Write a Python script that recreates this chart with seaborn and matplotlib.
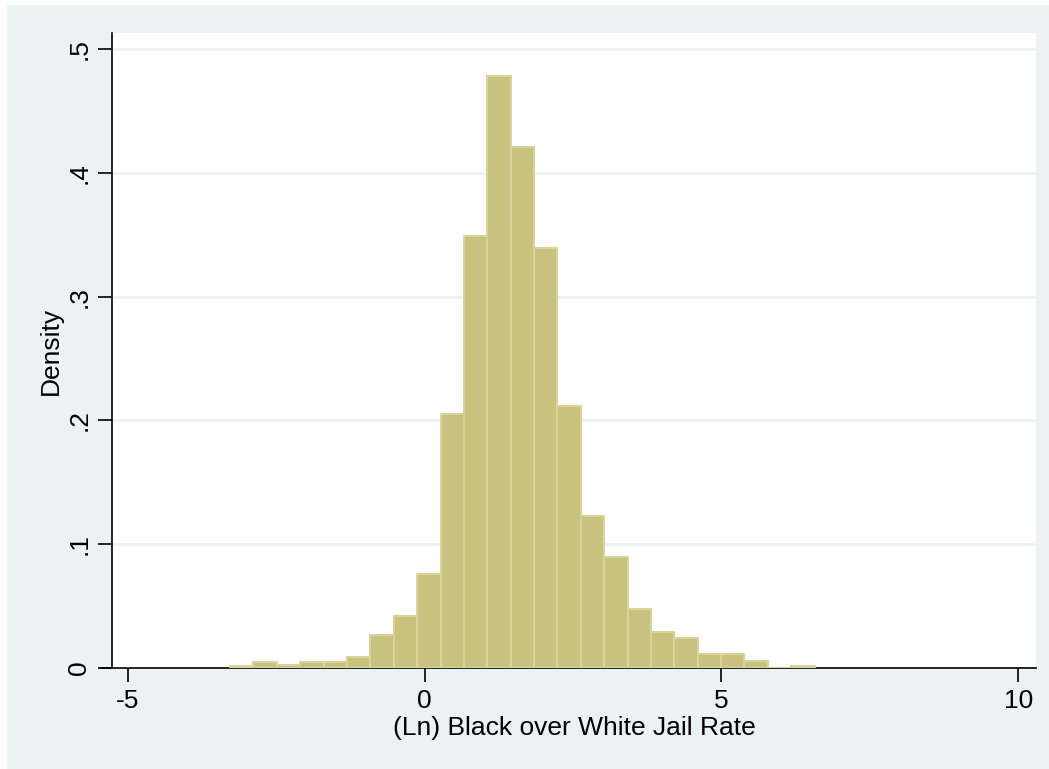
"""
Histogram of (Ln) Black over White Jail Rate, Stata s2color look
"""
import matplotlib
matplotlib.use("Agg")
import matplotlib.pyplot as plt
import numpy as np
import pandas as pd
import seaborn as sns
from matplotlib.patches import Rectangle

# bins: 25 bins starting at -3.28, width ~0.394
bin_start = -3.28
bin_width = 0.394
densities = [
    0.0016, 0.0046, 0.0024, 0.005, 0.005, 0.009, 0.027, 0.042,
    0.076, 0.205, 0.349, 0.478, 0.421, 0.339, 0.212, 0.123,
    0.090, 0.048, 0.029, 0.024, 0.011, 0.011, 0.006, 0.0, 0.0016,
]
x_ticks = [-5, 0, 5, 10]
y_ticks = [0, 0.1, 0.2, 0.3, 0.4, 0.5]
y_tick_labels = ["0", ".1", ".2", ".3", ".4", ".5"]

BG = "#eaf2f3"
BAR = "#c8c27e"
BAR_EDGE = "#d8d39b"

edges = bin_start + bin_width * np.arange(len(densities) + 1)
df = pd.DataFrame({
    "x": edges[:-1] + bin_width / 2,
    "density": densities,
})

sns.set_style("white")
plt.rcParams["font.family"] = ["Liberation Sans", "DejaVu Sans"]
plt.rcParams["text.color"] = "black"
plt.rcParams["axes.labelcolor"] = "black"
plt.rcParams["xtick.color"] = "black"
plt.rcParams["ytick.color"] = "black"

fig = plt.figure(figsize=(10.49, 7.69), dpi=100, facecolor="white")
# light blue graph region, thin white strip on top and left like the original
fig.patches.append(Rectangle((7 / 1049, 0), 1, 1 - 5 / 769,
                             transform=fig.transFigure, facecolor=BG,
                             edgecolor="none", zorder=-10))
ax = fig.add_axes([112 / 1049, 1 - 668 / 769, (1036 - 112) / 1049, (668 - 33) / 769])
ax.set_facecolor("white")

sns.histplot(data=df, x="x", weights="density", bins=edges.tolist(), stat="count",
             color=BAR, edgecolor=BAR_EDGE, linewidth=1.5, alpha=1, ax=ax, zorder=3)

ax.set_xlim(-5.27, 10.3)
ax.set_ylim(0, 0.513)
ax.set_xticks(x_ticks)
ax.set_xticklabels([str(t) for t in x_ticks])
ax.set_yticks(y_ticks)
ax.set_yticklabels(y_tick_labels, rotation=90, va="center")
ax.tick_params(axis="both", direction="out", length=10, width=1.2, color="black",
               labelcolor="black", labelsize=19, pad=5, left=True, bottom=True)
ax.grid(axis="y", color=BG, linewidth=2, zorder=0)
ax.set_axisbelow(True)

for side in ["top", "right"]:
    ax.spines[side].set_visible(False)
for side in ["left", "bottom"]:
    ax.spines[side].set_color("black")
    ax.spines[side].set_linewidth(1.2)
# Stata's x axis line runs a bit past the y axis
ax.plot([-0.012, 0], [0, 0], transform=ax.transAxes, color="black",
        linewidth=1.2, clip_on=False)

ax.set_xlabel("(Ln) Black over White Jail Rate", fontsize=19, labelpad=2, color="black")
ax.set_ylabel("Density", fontsize=19, labelpad=3, color="black")

plt.savefig("out.png", dpi=100, facecolor=fig.get_facecolor())
